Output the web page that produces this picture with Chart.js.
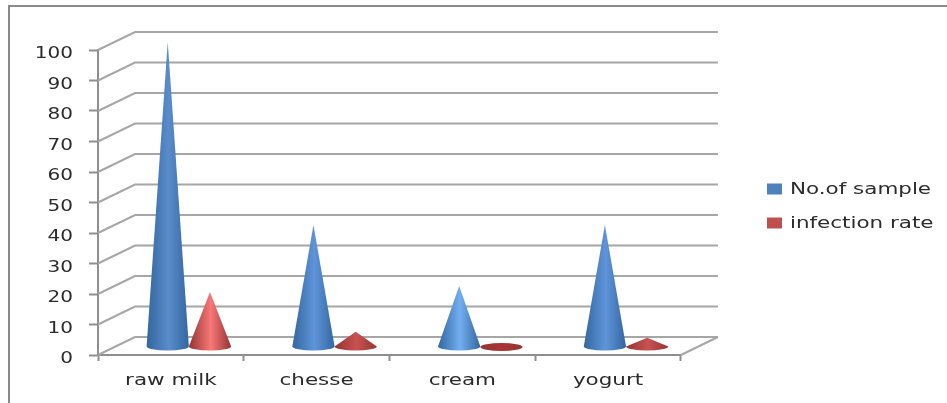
<!DOCTYPE html>
<html>
<head>
<meta charset="utf-8">
<style>
  html, body { margin: 0; background: #fff; }
  #wrap { position: relative; width: 947px; height: 403px; overflow: hidden; }
  #frame { position: absolute; left: 8px; top: 5px; right: 0; bottom: 0; border-left: 2px solid #8a8a8a; border-top: 2px solid #8a8a8a; }
  canvas { position: absolute; left: 0; top: 0; }
</style>
<script src="https://cdn.jsdelivr.net/npm/chart.js@4"></script>
</head>
<body>
<div id="wrap">
  <div id="frame"></div>
  <canvas id="coneChart" width="947" height="403"></canvas>
</div>
<script>
const categories = ['raw milk', 'chesse', 'cream', 'yogurt'];
const seriesNames = ['No.of sample', 'infection rate'];
const samples = [100, 40, 20, 40];
const infectionRate = [18, 5, 0, 3];
const yStep = 10;

// light and shade of each cone, left to right
const sampleShine = ['#5a8ccb', '#5f94da', '#72aef0', '#5f94da'];
const infectionShine = ['#f87878', '#c85252', '#a83434', '#c85252'];
const sampleEdge = '#33679f';
const infectionEdge = '#953433';

const gridColor = '#a6a6a6';
const axisColor = '#8e8e8e';
const textColor = '#2b2b2b';
const fontFamily = '"DejaVu Sans", sans-serif';

// depth of the fake 3d box, and how far the cones sit inside it
const depthX = 37, depthY = -18;
const coneX = 18, coneY = -8;

const ctx = document.getElementById('coneChart').getContext('2d');

// the chart's lettering is wide, so widen every label around its anchor
const plainFillText = ctx.fillText.bind(ctx);
ctx.fillText = (text, x, y, maxWidth) => {
  const stretch = /^\d+$/.test(text) ? 1.25 : 1.34;
  const drop = seriesNames.includes(text) ? 1 : 4;
  ctx.save();
  ctx.translate(x, y + drop);
  ctx.scale(stretch, 1);
  plainFillText(text, 0, 0, maxWidth);
  ctx.restore();
};

const wallsPlugin = {
  id: 'walls',
  beforeDatasetsDraw(chart) {
    const { ctx, scales: { x, y } } = chart;
    ctx.save();
    ctx.strokeStyle = gridColor;
    ctx.lineWidth = 2;
    y.ticks.forEach(t => {
      const py = y.getPixelForValue(t.value);
      ctx.beginPath();
      ctx.moveTo(x.left, py);
      ctx.lineTo(x.left + depthX, py + depthY);
      ctx.lineTo(x.right + depthX, py + depthY);
      ctx.stroke();
    });
    // right edge of the floor
    const py0 = y.getPixelForValue(0);
    ctx.beginPath();
    ctx.moveTo(x.right, py0);
    ctx.lineTo(x.right + depthX, py0 + depthY);
    ctx.stroke();
    ctx.restore();
  }
};

function drawCone(ctx, bar, shine, edge) {
  const cx = bar.x + coneX;
  const base = bar.base + coneY;
  const apex = bar.y + coneY;
  const r = bar.width / 2;
  const ry = r * 0.19;
  const grad = ctx.createLinearGradient(cx - r, 0, cx + r, 0);
  grad.addColorStop(0, edge);
  grad.addColorStop(0.52, shine);
  grad.addColorStop(1, edge);
  ctx.fillStyle = grad;
  ctx.beginPath();
  if (base - apex < ry) {
    // nothing to point up, only the round foot shows
    ctx.ellipse(cx, base, r, ry, 0, 0, Math.PI * 2);
  } else {
    ctx.moveTo(cx, apex);
    ctx.lineTo(cx - r, base);
    ctx.ellipse(cx, base, r, ry, 0, Math.PI, 0, true);
    ctx.closePath();
  }
  ctx.fill();
}

const conesPlugin = {
  id: 'cones',
  // cones replace the flat bars of each dataset
  beforeDatasetDraw(chart, args) {
    const shine = args.index === 0 ? sampleShine : infectionShine;
    const edge = args.index === 0 ? sampleEdge : infectionEdge;
    args.meta.data.forEach((bar, i) => drawCone(chart.ctx, bar, shine[i], edge));
    return false;
  }
};

const legendPlugin = {
  id: 'legendPlace',
  afterLayout(chart) {
    const l = chart.legend;
    l.left = 749;
    l.right = 947;
    l.top = 163;
    l.bottom = 300;
  }
};

new Chart(ctx, {
  type: 'bar',
  data: {
    labels: categories,
    datasets: [
      { label: seriesNames[0], data: samples, backgroundColor: '#4f81bd' },
      { label: seriesNames[1], data: infectionRate, backgroundColor: '#c0504d' }
    ]
  },
  options: {
    responsive: false,
    animation: false,
    layout: { padding: { left: 0, right: 108, top: 50, bottom: 0 } },
    categoryPercentage: 0.58,
    barPercentage: 1,
    scales: {
      x: {
        afterFit(scale) { scale.height = 48; },
        grid: { drawOnChartArea: false, tickColor: axisColor, tickLength: 6, tickWidth: 2 },
        border: { color: axisColor, width: 2 },
        ticks: { color: textColor, font: { family: fontFamily, size: 16 }, padding: 6, maxRotation: 0 }
      },
      y: {
        min: 0,
        max: 100,
        afterFit(scale) { scale.width = 98; },
        grid: { drawOnChartArea: false, tickColor: axisColor, tickLength: 9, tickWidth: 2 },
        border: { color: axisColor, width: 2 },
        ticks: { stepSize: yStep, color: textColor, font: { family: fontFamily, size: 16 }, padding: 16 }
      }
    },
    plugins: {
      legend: {
        position: 'right',
        align: 'start',
        labels: {
          boxWidth: 15,
          boxHeight: 11,
          padding: 18,
          color: textColor,
          font: { family: fontFamily, size: 16 }
        }
      },
      tooltip: { enabled: false }
    }
  },
  plugins: [wallsPlugin, conesPlugin, legendPlugin]
});
</script>
</body>
</html>
